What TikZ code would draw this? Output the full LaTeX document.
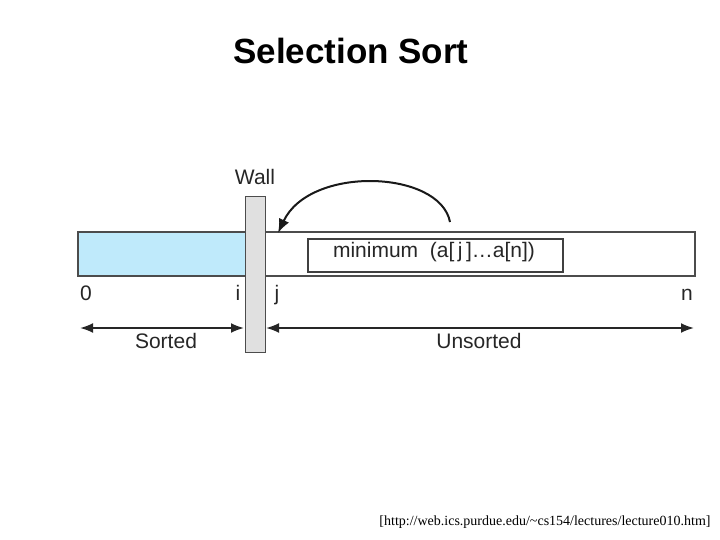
\documentclass[tikz,border=0pt]{standalone}
\usepackage{fontspec}
\setmainfont{Liberation Sans}
\newfontfamily\serifcite{Liberation Serif}
\usetikzlibrary{arrows.meta}
\begin{document}
\begin{tikzpicture}[x=1pt,y=-1pt,
  lbl/.style={font=\fontsize{21}{24}\selectfont, text=black!85, inner sep=0pt, text height=1.5ex, text depth=0.3ex},
  dbl/.style={{Latex[length=13pt,width=10pt]}-{Latex[length=13pt,width=10pt]}, line width=2pt, black!85}]
\useasboundingbox (0,0) rectangle (720,540);
\node[font=\bfseries\fontsize{35}{40}\selectfont] (title) at (351,51) {Selection Sort};
% bar
\fill[cyan!25!white] (78,232) rectangle (245,276);
\draw[black!70, line width=2pt] (78,232) rectangle (695,276);
\node[draw=black!75, line width=1.5pt, minimum width=255pt, minimum height=33pt, inner sep=0pt, anchor=north west] (minbox) at (307,238) {};
\node[lbl] (mintext) at (434,254) {minimum\ \ (a[\,j\,]\dots a[n])};
% wall
\node[draw=black!70, fill=black!12, line width=1.2pt, minimum width=20pt, minimum height=156pt, inner sep=0pt, anchor=north west] (wall) at (245,196) {};
\node[lbl] (walltext) at (255,181) {Wall};
% curved arrow
\coordinate (cs) at (450,222);
\coordinate (ce) at (278,233);
\draw[line width=2pt, black!90, -{Latex[length=14pt,width=11pt]}] (cs) .. controls (440,170) and (310,165) .. (ce);
% index labels
\node[lbl] (l0) at (86,297) {0};
\node[lbl] (li) at (238,297) {i};
\node[lbl] (lj) at (277,297) {j};
\node[lbl] (ln) at (687,297) {n};
% range arrows
\coordinate (s1) at (80,328); \coordinate (s2) at (244,328);
\coordinate (u1) at (266,328); \coordinate (u2) at (694,328);
\draw[dbl] (s1) -- (s2);
\draw[dbl] (u1) -- (u2);
\node[lbl] (sorted) at (166,345) {Sorted};
\node[lbl] (unsorted) at (479,345) {Unsorted};
\node[font=\serifcite\fontsize{14}{16}\selectfont, inner sep=0pt] (cite) at (545,522) {[http://web.ics.purdue.edu/\textasciitilde cs154/lectures/lecture010.htm]};
\end{tikzpicture}
\end{document}
